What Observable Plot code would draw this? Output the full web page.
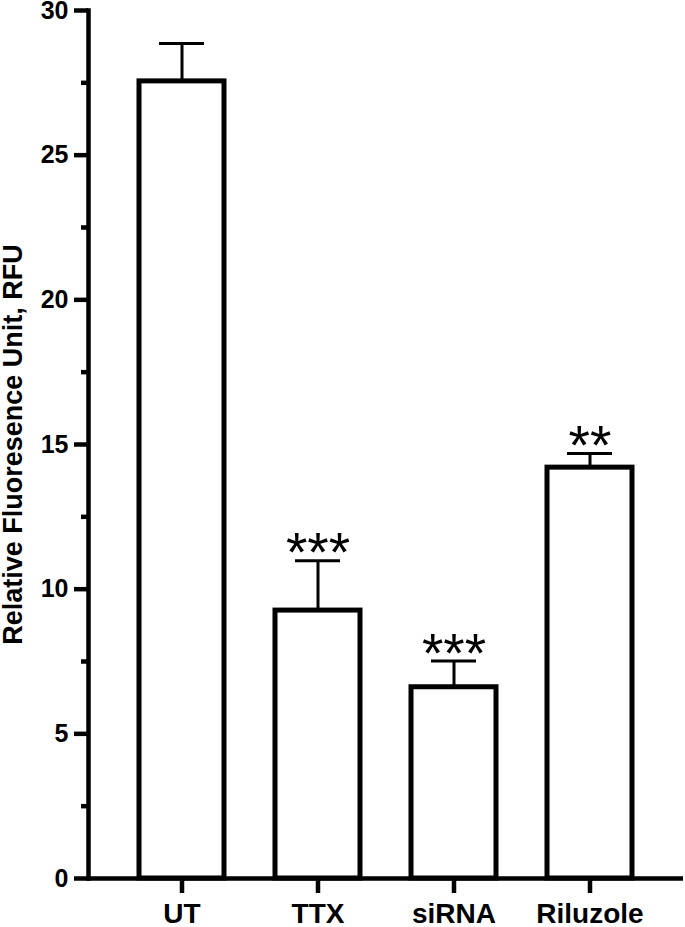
<!DOCTYPE html>
<html>
<head>
<meta charset="utf-8">
<script src="https://cdn.jsdelivr.net/npm/d3@7"></script>
<script src="https://cdn.jsdelivr.net/npm/@observablehq/plot@0.6"></script>
<style>
  html, body { margin: 0; padding: 0; background: #fff; }
  #chart svg { display: block; font-family: "Liberation Sans", Arial, sans-serif; overflow: visible; }
</style>
</head>
<body>
<div id="chart"></div>
<script>
const categories = ["UT", "TTX", "siRNA", "Riluzole"];
const means = [27.55, 9.26, 6.61, 14.2];
const sems = [1.31, 1.72, 0.91, 0.49];
const significance = ["", "***", "***", "**"];
const majorTicks = [0, 5, 10, 15, 20, 25, 30];
const minorTicks = [2.5, 7.5, 12.5, 17.5, 22.5, 27.5];
const yTitle = "Relative Fluoresence Unit, RFU";

const data = categories.map((c, i) => ({
  cat: c, mean: means[i], upper: means[i] + sems[i], sig: significance[i]
}));

const chart = Plot.plot({
  width: 685,
  height: 927,
  marginLeft: 88,
  marginRight: 2,
  marginTop: 10,
  marginBottom: 49,
  style: { fontFamily: '"Liberation Sans", Arial, sans-serif', background: "white" },
  x: { domain: categories, range: [88, 682], padding: 0.378, paddingOuter: 0.36, label: null },
  y: { domain: [0, 30], label: null },
  marks: [
    Plot.barY(data, { x: "cat", y: "mean", fill: "white", stroke: "black", strokeWidth: 5 }),
    Plot.ruleX(data, { x: "cat", y1: "mean", y2: "upper", stroke: "black", strokeWidth: 3 }),
    Plot.tickY(data, { x: "cat", y: "upper", stroke: "black", strokeWidth: 3, insetLeft: 20, insetRight: 20 }),
    Plot.text(data.filter(d => d.sig), { x: "cat", y: "upper", text: "sig", fontSize: 55, lineAnchor: "middle", dy: -7, fill: "black" }),
    Plot.axisY({ ticks: minorTicks, tickSize: 7, tickFormat: null, text: null, strokeWidth: 4.5, label: null }),
    Plot.axisY({ ticks: majorTicks, tickSize: 14, tickPadding: 6, strokeWidth: 4.5, fontSize: 25, fontWeight: "bold", label: null, fill: "black" }),
    Plot.axisY({ ticks: [], label: yTitle, labelAnchor: "center", labelOffset: 86, labelArrow: false, fontSize: 27, fontWeight: "bold", fill: "black" }),
    Plot.axisX({ tickSize: 15, tickPadding: 10, strokeWidth: 4.5, fontSize: 28, fontWeight: "bold", label: null, fill: "black" }),
    Plot.frame({ anchor: "left", strokeWidth: 4.5, stroke: "black" }),
    Plot.ruleY([0], { stroke: "black", strokeWidth: 4.5 })
  ]
});
document.getElementById("chart").appendChild(chart);
</script>
</body>
</html>
